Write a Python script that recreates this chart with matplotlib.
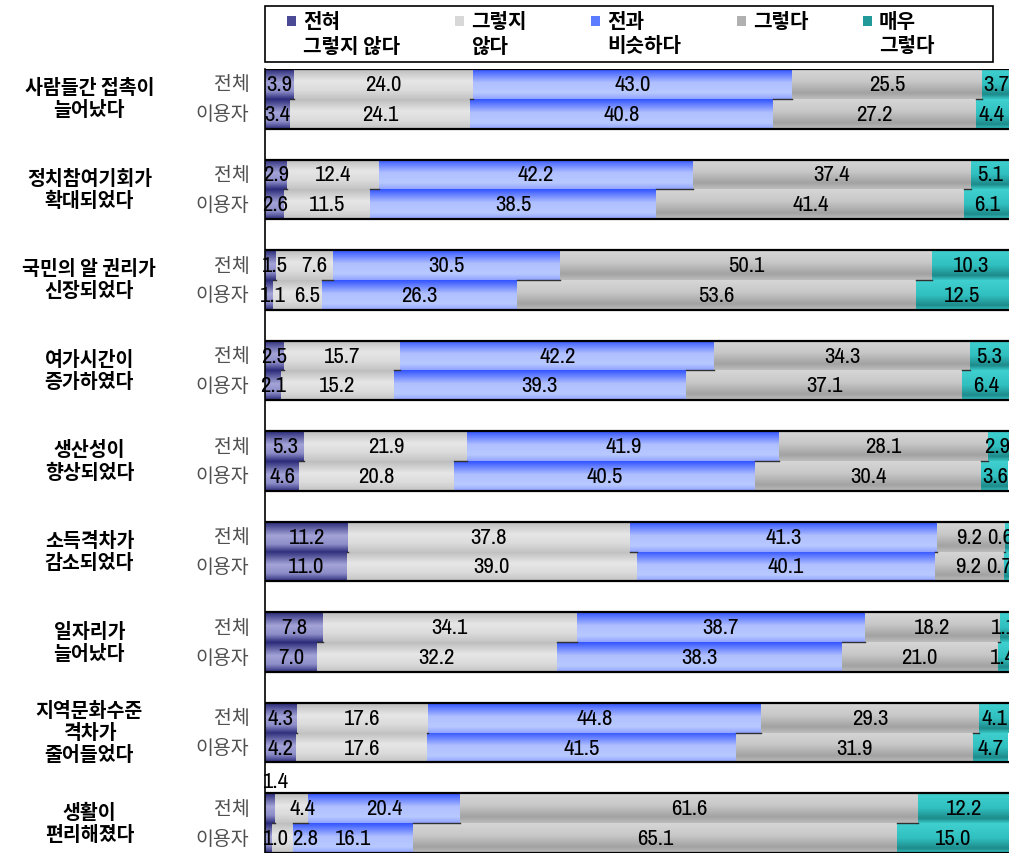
import numpy as np
import matplotlib
matplotlib.use('Agg')
import matplotlib.pyplot as plt
from matplotlib import font_manager as fm
from matplotlib.colors import LinearSegmentedColormap
from matplotlib.patches import Rectangle

plt.rcParams['font.family'] = ['Noto Sans CJK KR', 'DejaVu Sans']

# 데이터
categories = ['사람들간 접촉이\n늘어났다', '정치참여기회가\n확대되었다', '국민의 알 권리가\n신장되었다',
              '여가시간이\n증가하였다', '생산성이\n향상되었다', '소득격차가\n감소되었다',
              '일자리가\n늘어났다', '지역문화수준\n격차가\n줄어들었다', '생활이\n편리해졌다']
sub_labels = ['전체', '이용자']
series = ['전혀\n그렇지 않다', '그렇지\n않다', '전과\n비슷하다', '그렇다', '매우\n그렇다']

total_vals = [
    [3.9, 24.0, 43.0, 25.5, 3.7],
    [2.9, 12.4, 42.2, 37.4, 5.1],
    [1.5, 7.6, 30.5, 50.1, 10.3],
    [2.5, 15.7, 42.2, 34.3, 5.3],
    [5.3, 21.9, 41.9, 28.1, 2.9],
    [11.2, 37.8, 41.3, 9.2, 0.6],
    [7.8, 34.1, 38.7, 18.2, 1.1],
    [4.3, 17.6, 44.8, 29.3, 4.1],
    [1.4, 4.4, 20.4, 61.6, 12.2],
]
user_vals = [
    [3.4, 24.1, 40.8, 27.2, 4.4],
    [2.6, 11.5, 38.5, 41.4, 6.1],
    [1.1, 6.5, 26.3, 53.6, 12.5],
    [2.1, 15.2, 39.3, 37.1, 6.4],
    [4.6, 20.8, 40.5, 30.4, 3.6],
    [11.0, 39.0, 40.1, 9.2, 0.7],
    [7.0, 32.2, 38.3, 21.0, 1.4],
    [4.2, 17.6, 41.5, 31.9, 4.7],
    [1.0, 2.8, 16.1, 65.1, 15.0],
]

# 그라데이션 색 (위 -> 아래)
grad_stops = [
    [(0, '#2a2a7a'), (0.45, '#a4a4d8'), (0.75, '#8c8cc8'), (1, '#30307e')],
    [(0, '#bdbdbd'), (0.4, '#e6e6e6'), (0.7, '#dcdcdc'), (1, '#c4c4c4')],
    [(0, '#3355ff'), (0.45, '#b0c0ff'), (0.8, '#b8c8ff'), (1, '#90a4ff')],
    [(0, '#d6d6d6'), (0.4, '#c8c8c8'), (0.8, '#a2a2a2'), (1, '#bcbcbc')],
    [(0, '#40d0d0'), (0.5, '#30c0c0'), (0.85, '#1e8a8a'), (1, '#36c4c4')],
]
legend_colors = ['#4a4a96', '#d8d8d8', '#5c7cff', '#b0b0b0', '#229a9a']

# 겹치는 라벨 위치 보정 (그룹, 행, 구간): (dx, dy)
label_nudge = {
    (2, 0, 0): (0.6, 0), (2, 0, 1): (1.3, 0), (2, 1, 0): (0.5, 0), (2, 1, 1): (1.3, 0),
    (4, 0, 4): (-0.3, 0),
    (5, 0, 3): (-0.2, 0), (5, 1, 3): (-0.2, 0), (5, 0, 4): (-1.0, 0), (5, 1, 4): (-1.0, 0),
    (8, 0, 0): (0.8, -0.3), (8, 0, 1): (1.4, 0), (8, 1, 0): (1.0, 0), (8, 1, 1): (3.0, 0),
}

# 좁은 글꼴 찾기
names = {f.name for f in fm.fontManager.ttflist}
label_family = ['DejaVu Sans']
for cand in ['Liberation Sans Narrow', 'Archivo Narrow', 'Roboto Condensed']:
    if cand in names:
        label_family = [cand]
        break

fig = plt.figure(figsize=(10.09, 8.54), dpi=100)
ax = fig.add_axes([265 / 1009, 0, 744 / 1009, 1 - 70 / 854])

h = 0.331
n = len(categories)
grad = np.linspace(0, 1, 64).reshape(-1, 1)
cmaps = [LinearSegmentedColormap.from_list('g%d' % k, s) for k, s in enumerate(grad_stops)]

for i in range(n):
    rows = [total_vals[i], user_vals[i]]
    for r, vals in enumerate(rows):
        yc = i - h / 2 if r == 0 else i + h / 2
        left = 0
        for k, v in enumerate(vals):
            bar = ax.barh(yc, v, left=left, height=h, color=legend_colors[k], linewidth=0)[0]
            im = ax.imshow(grad, cmap=cmaps[k], aspect='auto', interpolation='bilinear',
                           extent=(left, left + v, yc + h / 2, yc - h / 2), zorder=2)
            im.set_clip_path(bar)
            dx, dy = label_nudge.get((i, r, k), (0, 0))
            ax.text(left + v / 2 + dx, yc + dy, '%.1f' % v, ha='center', va='center',
                    fontsize=16.5, family=label_family, fontweight='medium',
                    color='black', zorder=4)
            left += v
    # 계열선
    c0 = np.cumsum(rows[0])
    c1 = np.cumsum(rows[1])
    for k in range(4):
        ax.plot([c0[k], c1[k]], [i, i], color='#303030', lw=1, zorder=3)
    ax.hlines([i - h, i + h], 0, 100, color='black', lw=1.6, zorder=3)
    # 왼쪽 라벨
    for r, s in enumerate(sub_labels):
        yc = i - h / 2 if r == 0 else i + h / 2
        ax.text(-2.1, yc, s, ha='right', va='center', fontsize=14, color='#505050',
                clip_on=False)
    ax.text(-23.6, i, categories[i], ha='center', va='center', fontsize=14, fontweight='bold',
            linespacing=1.2, clip_on=False)

ax.set_xlim(0, 100)
ax.set_ylim(n - 1 + h, -h)
ax.set_xticks([])
ax.set_yticks([])
for sp in ['top', 'right', 'bottom']:
    ax.spines[sp].set_visible(False)
ax.spines['left'].set_color('black')
ax.spines['left'].set_linewidth(1.2)

# 범례
fig.patches.append(Rectangle((265 / 1009, 1 - 63 / 854), 728 / 1009, 56 / 854,
                             transform=fig.transFigure, fill=False, edgecolor='black', lw=1.2))
leg_x = [287, 455, 591, 737, 863]
for k, name in enumerate(series):
    fig.patches.append(Rectangle((leg_x[k] / 1009, 1 - 27 / 854), 9 / 1009, 10 / 854,
                                 transform=fig.transFigure, facecolor=legend_colors[k],
                                 edgecolor='none'))
    lines = name.split('\n')
    fig.text((leg_x[k] + 16) / 1009, 1 - 22 / 854, lines[0], ha='left', va='center',
             fontsize=14.5, fontweight='bold')
    if len(lines) > 1:
        fig.text((leg_x[k] + 16) / 1009, 1 - 46 / 854, lines[1], ha='left', va='center',
                 fontsize=14.5, fontweight='bold')

fig.savefig('out.png', dpi=100)
